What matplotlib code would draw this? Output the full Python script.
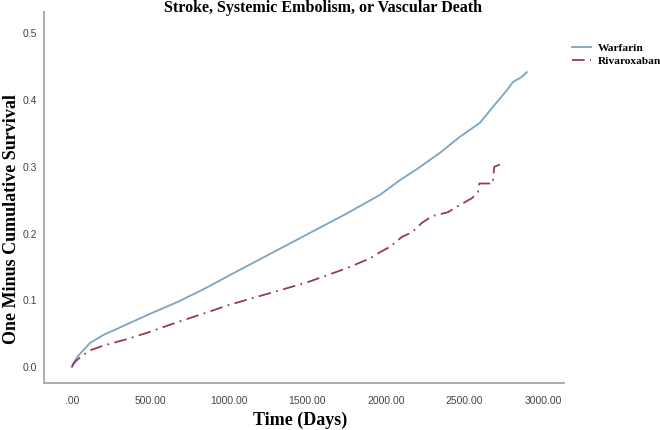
import matplotlib
matplotlib.use("Agg")
from matplotlib import pyplot as plt

# cumulative event curves (days, 1 - survival)
warfarin_days = [0, 10, 30, 60, 115, 200, 369, 500, 669, 850, 1000, 1250, 1500,
                 1750, 1962, 2089, 2200, 2344, 2471, 2599, 2682, 2771, 2809, 2866, 2898]
warfarin_risk = [0, 0.006, 0.014, 0.022, 0.036, 0.048, 0.066, 0.080, 0.097, 0.118,
                 0.137, 0.168, 0.199, 0.230, 0.258, 0.280, 0.297, 0.321, 0.345,
                 0.366, 0.390, 0.415, 0.427, 0.435, 0.442]

riva_days = [0, 10, 30, 60, 115, 200, 369, 500, 669, 850, 1000, 1250, 1500, 1750,
             1900, 1962, 2025, 2102, 2166, 2229, 2293, 2395, 2471, 2548, 2586,
             2595, 2680, 2690, 2740]
riva_risk = [0, 0.005, 0.010, 0.016, 0.025, 0.032, 0.043, 0.053, 0.067, 0.081,
             0.093, 0.110, 0.127, 0.148, 0.163, 0.172, 0.180, 0.195, 0.202, 0.216,
             0.226, 0.232, 0.243, 0.253, 0.262, 0.275, 0.275, 0.300, 0.305]

x_ticks = [0, 500, 1000, 1500, 2000, 2500, 3000]
x_labels = [".00", "500.00", "1000.00", "1500.00", "2000.00", "2500.00", "3000.00"]
y_ticks = [0.0, 0.1, 0.2, 0.3, 0.4, 0.5]

serif = ["Liberation Serif", "DejaVu Serif"]
sans = ["Liberation Sans", "DejaVu Sans"]

fig = plt.figure(figsize=(6.6, 4.3), dpi=100)
ax = fig.add_axes([0.0667, 0.1093, 0.7878, 0.8627])

ax.plot(warfarin_days, warfarin_risk, color="#7ba3c2", lw=1.3, label="Warfarin")
ax.plot(riva_days, riva_risk, color="#983a56", lw=1.3,
        linestyle=(0, (7, 3, 1, 3)), label="Rivaroxaban")

ax.set_xlim(-178, 3134)
ax.set_ylim(-0.024, 0.532)
ax.set_xticks(x_ticks)
ax.set_xticklabels(x_labels)
ax.set_yticks(y_ticks)
ax.set_yticklabels([f"{v:.1f}" for v in y_ticks])
ax.tick_params(length=0, labelsize=7.5, labelcolor="#444444")
ax.tick_params(axis="x", pad=9)
ax.tick_params(axis="y", pad=5)
for lab in ax.get_xticklabels() + ax.get_yticklabels():
    lab.set_family(sans)

for s in ["top", "right"]:
    ax.spines[s].set_visible(False)
for s in ["left", "bottom"]:
    ax.spines[s].set_color("#a8a8a8")
    ax.spines[s].set_linewidth(1.3)

fig.text(0.489, 0.982, "Stroke, Systemic Embolism, or Vascular Death",
         ha="center", va="center", family=serif, weight="bold", fontsize=11.5)
fig.text(0.455, 0.023, "Time (Days)", ha="center", va="center",
         family=serif, weight="bold", fontsize=13)
fig.text(0.017, 0.49, "One Minus Cumulative Survival", ha="center", va="center",
         rotation=90, family=serif, weight="bold", fontsize=13)

fig.legend(loc="upper left", bbox_to_anchor=(0.857, 0.915), frameon=False,
           prop={"family": serif, "weight": "bold", "size": 8.2},
           handlelength=1.6, handletextpad=0.6, labelspacing=0.2,
           borderaxespad=0.2)

fig.savefig("out.png", dpi=100)
